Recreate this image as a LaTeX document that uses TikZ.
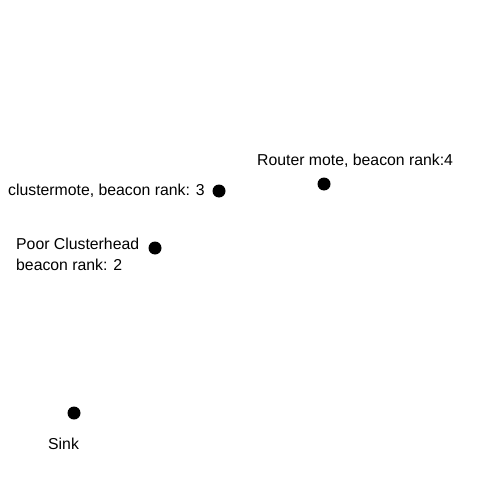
\documentclass[tikz,border=0pt]{standalone}
\usepackage{fontspec}
\setmainfont{Liberation Sans}
\usetikzlibrary{positioning}

\begin{document}
\begin{tikzpicture}[
x=1pt, y=-1pt,
mote/.style={circle, fill=black, inner sep=0pt, minimum size=13pt},
tag/.style={inner sep=0pt, anchor=west, align=left, font=\fontsize{15.8}{21}\selectfont}
]
\useasboundingbox (0,0) rectangle (500,500);

\node[mote] (router) at (324,184) {};
\node[mote] (cluster) at (219,191) {};
\node[mote] (poor) at (155,248) {};
\node[mote] (sink) at (74,413) {};

\node[tag] (routertag) at (257,161) {Router mote, beacon rank:4};
\node[tag] (clustertag) at (8,191) {clustermote, beacon rank: 3};
\node[tag] (poortag) at (16,254) {Poor Clusterhead\\beacon rank: 2};
\node[tag] (sinktag) at (48,444) {Sink};

\end{tikzpicture}
\end{document}
